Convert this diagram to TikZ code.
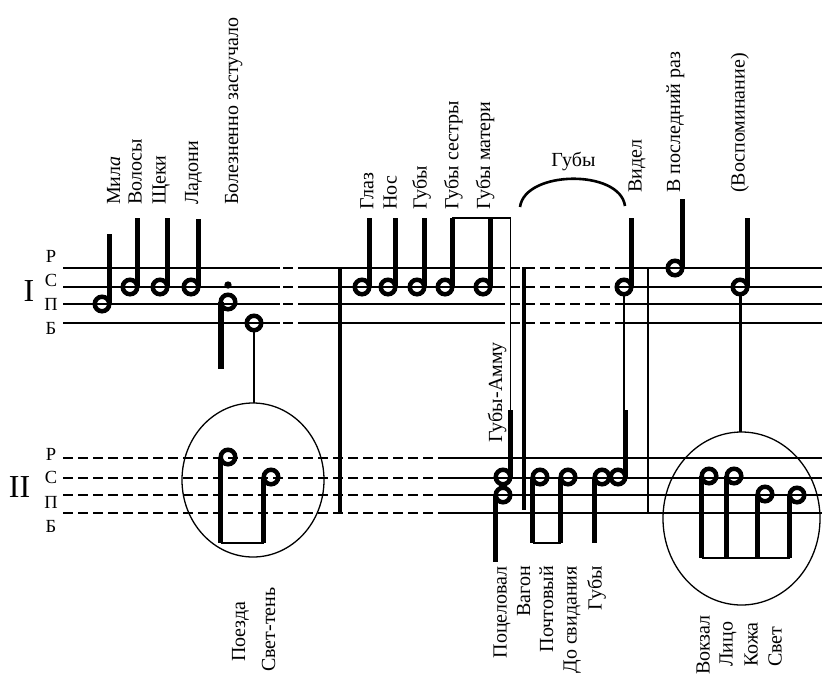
\documentclass[tikz,border=0pt]{standalone}
\usepackage{fontspec}
\setmainfont{Liberation Serif}
\usetikzlibrary{shapes.geometric}
\newcommand\lblsize{\fontsize{20}{22}\selectfont}

\begin{document}
\begin{tikzpicture}[x=1pt,y=-1pt,
  staff/.style={line width=1.8pt},
  dstaff/.style={line width=1.8pt,dash pattern=on 10pt off 5pt},
  head/.style={circle,draw,line width=4.5pt,minimum size=14.5pt,inner sep=0pt,outer sep=0pt},
  dotmark/.style={circle,fill,minimum size=7.4pt,inner sep=0pt},
  stemln/.style={line width=4.7pt},
  thinln/.style={line width=1.4pt},
  barln/.style={line width=3.5pt},
  ring/.style={ellipse,draw,line width=1.3pt,inner sep=0pt,outer sep=0pt},
  lbl/.style={rotate=90,inner sep=0pt,text height=13pt,text depth=0pt,font=\lblsize},
  lvl/.style={inner sep=0pt,anchor=base,font=\fontsize{18.5}{18.5}\selectfont},
  num/.style={inner sep=0pt,anchor=base,font=\fontsize{32}{32}\selectfont}]
\useasboundingbox (0,0) rectangle (822,678);

% staves
\foreach \y in {268,287,304,323} {
  \draw[staff] (63,\y) -- (280,\y);
  \draw[staff] (283,\y) -- (293,\y);
  \draw[staff] (298,\y) -- (495,\y);
  \draw[dstaff] (495,\y) -- (620,\y);
  \draw[staff] (620,\y) -- (822,\y);
}
\foreach \y in {458,478,495,513} {
  \draw[dstaff] (63,\y) -- (443,\y);
  \draw[staff] (443,\y) -- (822,\y);
}
\node[num] (one) at (29,301) {I};
\node[num] (two) at (19.5,497) {II};
\node[lvl] (r1) at (51,262) {Р};
\node[lvl] (s1) at (51,286) {С};
\node[lvl] (p1) at (51,310) {П};
\node[lvl] (b1) at (51,334) {Б};
\node[lvl] (r2) at (51,460) {Р};
\node[lvl] (s2) at (51,483) {С};
\node[lvl] (p2) at (51,508) {П};
\node[lvl] (b2) at (51,532) {Б};

% bars
\draw[barln] (340,268) -- (340,513);
\draw[barln] (524,267) -- (524,510);
\draw[line width=2.6pt] (648,267) -- (648,512);

\coordinate (topI) at (0,218);
\coordinate (midII) at (0,410);
\coordinate (lowA) at (0,543);
\coordinate (lowC) at (0,558);

% first phrase
\node[head] (mila) at (102,304) {};
\node[head] (volosy) at (130,287) {};
\node[head] (scheki) at (160,287) {};
\node[head] (ladoni) at (191,287) {};
\node[dotmark] (bolezdot) at (228,285) {};
\node[head] (bolez) at (228,302) {};
\node[head] (tren) at (254,323) {};
\draw[stemln] (mila.east) -- ++(0,-70);
\draw[stemln] (volosy.east) -- (volosy.east |- topI);
\draw[stemln] (scheki.east) -- (scheki.east |- topI);
\draw[stemln] (ladoni.east) -- ++(0,-68);
\draw[line width=6pt] (bolez.west) -- ++(0,67);

\node[ring,minimum width=142pt,minimum height=154pt] (ringA) at (253,480) {};
\draw[line width=2.5pt] (tren.south) -- (tren.south |- ringA.north);
\node[head] (poezd) at (228,457) {};
\node[head] (svetten) at (271,477) {};
\draw[stemln] (poezd.west) -- (poezd.west |- lowA);
\draw[stemln] (svetten.west) -- (svetten.west |- lowA);
\draw[thinln] (poezd.west |- lowA) -- (svetten.west |- lowA);

\node[lbl,anchor=west] (lmila) at (113.5,205) {Мил\textit{а}};
\node[lbl,anchor=west] (lvolosy) at (135,205) {Волосы};
\node[lbl,anchor=west] (lscheki) at (159,205) {Щеки};
\node[lbl,anchor=west] (lladoni) at (191.5,205) {Ладони};
\node[lbl,anchor=west] (lbolez) at (231.5,205) {Болезненно застучало};
\node[lbl,anchor=west] (lpoezd) at (238.5,662) {Поезда};
\node[lbl,anchor=west] (lsvetten) at (268.5,672) {Свет-тень};

% second phrase
\node[head] (glaz) at (362,287) {};
\node[head] (nos) at (388,287) {};
\node[head] (gubyA) at (417,287) {};
\node[head] (sestry) at (445,287) {};
\node[head] (materi) at (483,287) {};
\foreach \n in {glaz,nos,gubyA,sestry,materi}
  \draw[stemln] (\n.east) -- (\n.east |- topI);
\node[head] (amu) at (503,477) {};
\node[head] (pocel) at (503,495) {};
\draw[thinln] (sestry.east |- topI) -- (amu.east |- topI) -- (amu.east |- midII);
\draw[stemln] (amu.east |- midII) -- (amu.east);
\draw[stemln] (pocel.west) -- ++(0,67);

\node[head] (pocht) at (540,477) {};
\node[head] (dosv) at (568,477) {};
\node[head] (gubyB) at (602,477) {};
\node[head] (vidB) at (618,477) {};
\draw[stemln] (pocht.west) -- (pocht.west |- lowA);
\draw[stemln] (dosv.west) -- (dosv.west |- lowA);
\draw[thinln] (pocht.west |- lowA) -- (dosv.west |- lowA);
\draw[stemln] (gubyB.west) -- (gubyB.west |- lowA);

\node[head] (vid) at (624,287) {};
\draw[stemln] (vid.east) -- (vid.east |- topI);
\draw[thinln] (vid.south) -- (vid.south |- midII);
\draw[stemln] (vidB.east |- midII) -- (vidB.east);

\coordinate (arcL) at (520,207);
\coordinate (arcR) at (625,206);
\draw[line width=2.6pt] (arcL) .. controls +(5,-37) and +(-5,-37) .. (arcR);
\node[inner sep=0pt,anchor=base,font=\lblsize] (lgubyarc) at (573.5,166) {Губы};

\node[lbl,anchor=west] (lglaz) at (366.8,210) {Глаз};
\node[lbl,anchor=west] (lnos) at (390,210) {Нос};
\node[lbl,anchor=west] (lgubyA) at (420,210) {Губы};
\node[lbl,anchor=west] (lsestry) at (451.8,210) {Губы сестры};
\node[lbl,anchor=west] (lmateri) at (483.5,210) {Губы матери};
\node[lbl,anchor=west] (lvid) at (635,193) {Видел};
\node[lbl,anchor=west] (lamu) at (495.5,443) {Губы-Амму};
\node[lbl,anchor=east] (lpocel) at (500,566) {Поцеловал};
\node[lbl,anchor=east] (lvagon) at (523.5,566) {Вагон};
\node[lbl,anchor=east] (lpocht) at (546.7,566) {Почтовый};
\node[lbl,anchor=east] (ldosv) at (570,566) {До свидания};
\node[lbl,anchor=east] (lgubyB) at (595,566) {Губы};

% third phrase
\node[head] (posl) at (675,268) {};
\node[head] (vosp) at (740,287) {};
\draw[stemln] (posl.east) -- ++(0,-69);
\draw[stemln] (vosp.east) -- (vosp.east |- topI);
\node[ring,minimum width=157pt,minimum height=173pt] (ringB) at (741.5,518.5) {};
\draw[line width=3pt] (vosp.south) -- (vosp.south |- ringB.north);

\node[head] (vokz) at (709,476) {};
\node[head] (lico) at (734,476) {};
\node[head] (kozha) at (765,494) {};
\node[head] (svetB) at (797,495) {};
\foreach \n in {vokz,lico,kozha,svetB}
  \draw[stemln] (\n.west) -- (\n.west |- lowC);
\draw[thinln] (vokz.west |- lowC) -- (svetB.west |- lowC);

\node[lbl,anchor=west] (lposl) at (673.5,193) {В последний раз};
\node[lbl,anchor=west] (lvosp) at (738,193) {(Воспоминание)};
\node[lbl,anchor=west] (lvokz) at (703,675) {Вокзал};
\node[lbl,anchor=west] (llico) at (726,667) {Лицо};
\node[lbl,anchor=west] (lkozha) at (751,667) {Кожа};
\node[lbl,anchor=west] (lsvetB) at (775,667) {Свет};
\end{tikzpicture}
\end{document}
